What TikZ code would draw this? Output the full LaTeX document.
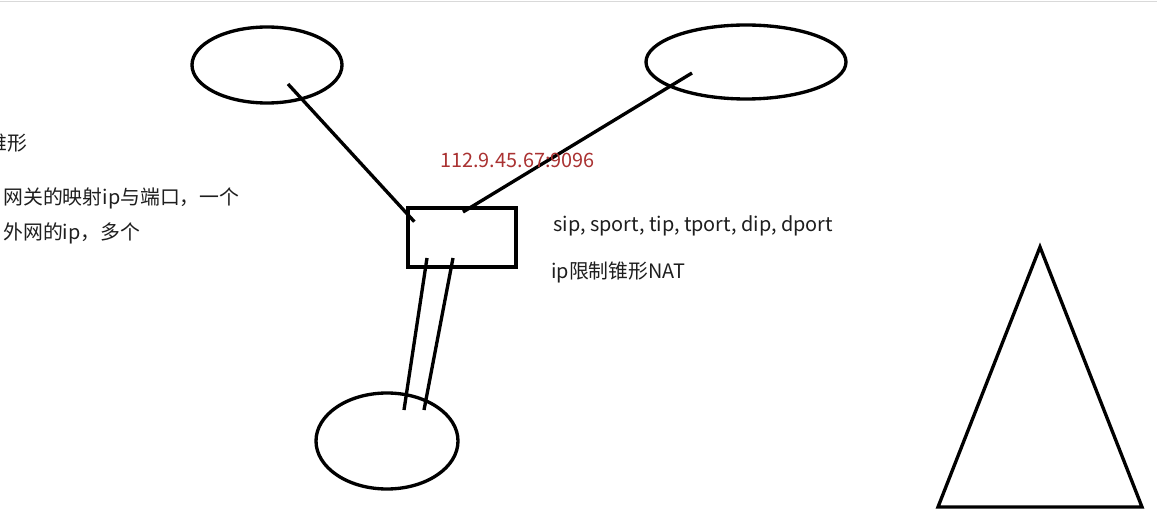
\documentclass[tikz,border=0pt]{standalone}
\usepackage{fontspec}
\setmainfont{Noto Sans CJK SC}
\usetikzlibrary{shapes.geometric,calc}
\definecolor{addrred}{RGB}{170,50,50}
\definecolor{inkgray}{RGB}{30,30,30}
\tikzstyle{hostoval}=[draw, ellipse, line width=1.9pt, inner sep=0pt]
\tikzstyle{note}=[anchor=west, inner sep=0pt, text=inkgray, font=\fontsize{11.3}{13}\selectfont]

\begin{document}
\begin{tikzpicture}
		%\draw[help lines] (0,0) grid (23,10);
		\useasboundingbox (0,0) rectangle (23.14,10.5);
		\clip (0,0) rectangle (23.14,10.5);
		\fill[white] (0,0) rectangle (23.14,10.5);
		\draw[black!15, line width=1pt] (0,10.47) -- (23.14,10.47);%top edge
		
		\node[hostoval, minimum width=3cm, minimum height=1.52cm] (lan) at (5.34,9.2) {};
		\node[hostoval, minimum width=4cm, minimum height=1.48cm] (wan) at (14.92,9.26) {};
		\node[hostoval, minimum width=2.84cm, minimum height=1.92cm] (peer) at (7.74,1.68) {};
		\node[draw, line width=1.9pt, minimum width=2.16cm, minimum height=1.18cm] (nat) at (9.24,5.75) {};%gateway
		
		\draw[line width=1.9pt] ($(lan.center)+(0.42,-0.38)$) -- ($(nat.south west)+(0.16,0.94)$);
		\draw[line width=1.9pt] ($(wan.center)+(-1.08,-0.22)$) -- ($(nat.center)+(0.02,0.51)$);
		\draw[line width=1.9pt] ($(nat.center)+(-0.70,-0.41)$) -- ($(peer.center)+(0.34,0.62)$);
		\draw[line width=1.9pt] ($(nat.center)+(-0.18,-0.41)$) -- ($(peer.center)+(0.74,0.62)$);
		
		\draw[line width=1.9pt, line join=miter] (20.8,5.56) -- (18.76,0.36) -- (22.84,0.36) -- cycle;%cone
		
		\node[note, text=addrred] (addr) at (8.8,7.3) {112.9.45.67:9096};
		\node[note] (tuple) at (11.06,5.99) {sip, sport, tip, tport, dip, dport};
		\node[note] (kind) at (11.02,5.05) {ip限制锥形NAT};
		
		\node[note, anchor=east] (cone) at (0.56,7.64) {锥形};
		\node[note] (map) at (0.06,6.54) {网关的映射ip与端口，一个};
		\node[note] (outer) at (0.06,5.84) {外网的ip，多个};
		\end{tikzpicture}
\end{document}
